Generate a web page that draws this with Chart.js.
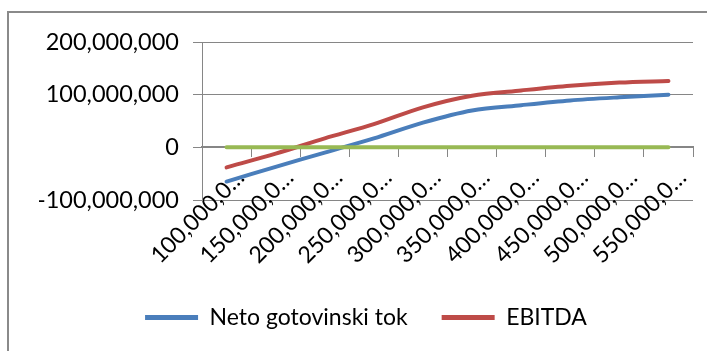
<!DOCTYPE html>
<html>
<head>
<meta charset="utf-8">
<script src="https://cdn.jsdelivr.net/npm/chart.js@4/dist/chart.umd.min.js"></script>
<style>
  html, body { margin: 0; padding: 0; background: #ffffff; overflow: hidden; }
  #wrap { position: relative; width: 707px; height: 351px; overflow: hidden; }
  #frame { position: absolute; left: 7px; top: 11px; width: 900px; height: 600px;
           border: 2px solid #8a8a8a; box-sizing: border-box; }
  canvas { position: absolute; left: 0; top: 0; }
</style>
</head>
<body>
<div id="wrap">
  <div id="frame"></div>
  <canvas id="c" width="707" height="351"></canvas>
</div>
<script>
// Categories (x axis), full values; shown truncated as in the reference
const categories = [100000000, 150000000, 200000000, 250000000, 300000000,
                    350000000, 400000000, 450000000, 500000000, 550000000];
// Series values
const netoGotovinskiTok = [-65000000, -37000000, -10000000, 17000000, 47000000,
                           70000000, 80000000, 89000000, 95000000, 100000000];
const ebitda = [-38000000, -12000000, 17000000, 44000000, 76000000,
                98000000, 108000000, 117000000, 123000000, 126000000];
const nulaLinija = [0, 0, 0, 0, 0, 0, 0, 0, 0, 0];
// Y-axis tick values
const yTicks = [-100000000, 0, 100000000, 200000000];

const fmt = v => Number(v).toLocaleString('en-US');
const catLabels = categories.map(fmt);
const FONT = 'Lato';
const GRID = '#868686';

const chart = new Chart(document.getElementById('c'), {
  type: 'line',
  data: {
    labels: catLabels,
    datasets: [
      { label: 'Neto gotovinski tok', data: netoGotovinskiTok,
        borderColor: '#4A7EBB', backgroundColor: '#4A7EBB', order: 0 },
      { label: 'EBITDA', data: ebitda,
        borderColor: '#BE4B48', backgroundColor: '#BE4B48', order: 0 },
      { label: '', data: nulaLinija,
        borderColor: '#98B954', backgroundColor: '#98B954', order: -1 }
    ]
  },
  options: {
    responsive: false,
    animation: false,
    devicePixelRatio: 1,
    layout: { padding: { left: 39, right: 14, top: 42, bottom: 12 } },
    elements: {
      line: { borderWidth: 4, tension: 0.3, borderCapStyle: 'round', fill: false },
      point: { radius: 0, hoverRadius: 0 }
    },
    plugins: {
      tooltip: { enabled: false },
      legend: {
        position: 'bottom',
        labels: {
          font: { family: FONT, size: 23 },
          color: '#000',
          boxWidth: 53,
          boxHeight: 5,
          padding: 34,
          filter: item => item.text !== '',
          generateLabels: ch => Chart.defaults.plugins.legend.labels.generateLabels(ch)
                                  .map(l => Object.assign(l, { lineWidth: 0 }))
        }
      }
    },
    scales: {
      x: {
        type: 'category',
        position: 'bottom',
        offset: true,
        grid: { display: false, drawTicks: false },
        border: { display: false },
        ticks: { display: false },
        afterFit: a => { a.height = 72; }
      },
      x2: {
        type: 'category',
        position: { y: 0 },
        offset: true,
        grid: { display: true, offset: true, drawOnChartArea: false, drawTicks: true,
                tickLength: 9, color: GRID, lineWidth: 1 },
        border: { display: true, color: GRID, width: 2 },
        ticks: { display: false }
      },
      x3: {
        type: 'category',
        position: { y: yTicks[0] },
        offset: true,
        grid: { display: false, drawTicks: false },
        border: { display: false },
        ticks: {
          autoSkip: false,
          minRotation: 45, maxRotation: 45,
          labelOffset: 14,
          padding: -36,
          color: '#000',
          font: { family: FONT, size: 23 },
          callback: function (v) {
            const s = this.getLabelForValue(v);
            return s.slice(0, 9) + '\u2026';
          }
        }
      },
      y: {
        min: yTicks[0], max: yTicks[yTicks.length - 1],
        afterBuildTicks: axis => { axis.ticks = yTicks.map(v => ({ value: v })); },
        afterFit: a => { a.width = 163; },
        grid: { color: GRID, lineWidth: 1, tickLength: 9, drawTicks: true },
        border: { display: true, color: GRID, width: 1 },
        ticks: {
          padding: 14,
          color: '#000',
          font: { family: FONT, size: 23.5 },
          callback: v => fmt(v)
        }
      }
    }
  }
});
</script>
</body>
</html>
